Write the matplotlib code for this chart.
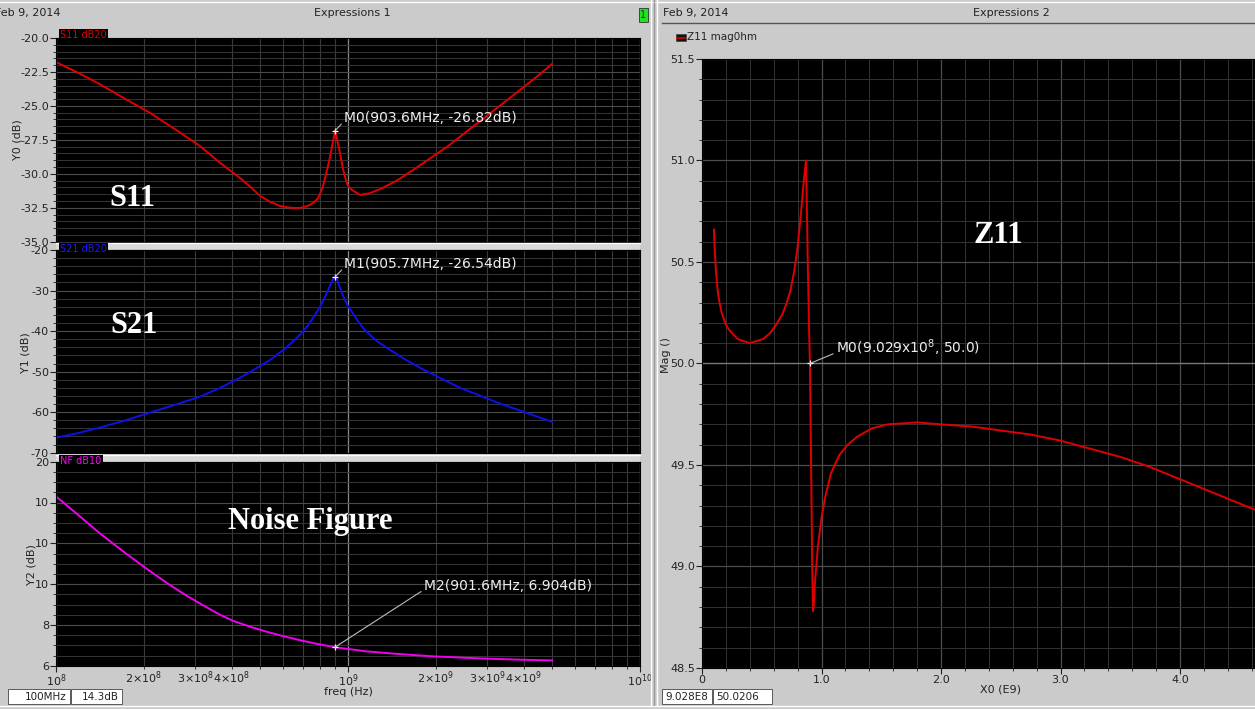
import matplotlib
matplotlib.use('Agg')
import matplotlib.pyplot as plt
from matplotlib.ticker import FixedLocator, FixedFormatter, MultipleLocator
from matplotlib.patches import Rectangle
from matplotlib.lines import Line2D

# ---------------- data ----------------
s11_freq_mhz = [100, 120, 141, 170, 210, 255, 311, 365, 427, 465, 500, 540, 585, 635,
                685, 730, 759, 790, 820, 850, 868, 885, 903.6, 920, 939, 958, 977,
                1000, 1032, 1100, 1190, 1290, 1470, 1670, 1900, 2180, 2650, 3240,
                3880, 4400, 5000]
s11_db = [-21.77, -22.6, -23.39, -24.4, -25.52, -26.7, -27.95, -29.2, -30.31, -31.0,
          -31.63, -32.05, -32.37, -32.5, -32.52, -32.35, -32.15, -31.8, -30.97, -29.6,
          -28.76, -27.8, -26.82, -27.6, -28.47, -29.5, -30.24, -30.9, -31.19, -31.56,
          -31.42, -31.12, -30.5, -29.72, -28.9, -28.03, -26.6, -25.15, -23.83, -22.9,
          -21.91]

s21_freq_mhz = [100, 120, 141, 170, 210, 255, 311, 365, 427, 480, 541, 610, 685, 730,
                771, 805, 834, 855, 875, 890, 905.7, 918, 931, 950, 968, 1000, 1032,
                1080, 1140, 1250, 1390, 1570, 1770, 2070, 2420, 2850, 3320, 4100, 5000]
s21_db = [-66.3, -65.1, -63.8, -62.2, -60.1, -58.2, -56.2, -54.0, -51.5, -49.4, -47.1,
          -44.3, -40.9, -38.6, -36.0, -33.8, -31.6, -29.9, -28.1, -27.1, -26.54, -27.3,
          -28.6, -30.3, -31.8, -33.8, -35.3, -37.5, -39.7, -42.4, -44.6, -47.0, -49.1,
          -51.6, -54.0, -56.0, -57.9, -60.2, -62.4]

nf_freq_mhz = [100, 120, 141, 170, 200, 240, 281, 311, 364, 404, 460, 528, 600, 685,
               790, 901.6, 1160, 1500, 1950, 2500, 3060, 4000, 5000]
nf_db = [14.3, 13.35, 12.5, 11.6, 10.85, 10.05, 9.42, 9.05, 8.5, 8.2, 7.92, 7.66, 7.45,
         7.25, 7.06, 6.904, 6.70, 6.57, 6.46, 6.39, 6.34, 6.29, 6.26]

z11_freq_ghz = [0.10, 0.105, 0.115, 0.125, 0.135, 0.15, 0.165, 0.20, 0.235, 0.30, 0.40,
                0.51, 0.57, 0.62, 0.67, 0.71, 0.74, 0.77, 0.795, 0.82, 0.837, 0.855,
                0.87, 0.878, 0.885, 0.895, 0.9029, 0.915, 0.922, 0.929, 0.937, 0.945,
                0.97, 1.0, 1.03, 1.08, 1.15, 1.22, 1.30, 1.42, 1.55, 1.80, 2.0, 2.25,
                2.5, 2.75, 3.0, 3.25, 3.5, 3.75, 4.0, 4.25, 4.5, 4.75, 5.0]
z11_mag = [50.66, 50.58, 50.47, 50.40, 50.34, 50.29, 50.25, 50.19, 50.16, 50.12, 50.10,
           50.12, 50.15, 50.19, 50.24, 50.30, 50.36, 50.45, 50.55, 50.69, 50.80, 50.92,
           51.00, 50.75, 50.50, 50.20, 50.00, 49.40, 49.00, 48.78, 48.82, 48.92,
           49.10, 49.24, 49.34, 49.46, 49.55, 49.60, 49.64, 49.68, 49.70, 49.71, 49.70,
           49.69, 49.67, 49.65, 49.62, 49.58, 49.54, 49.49, 49.43, 49.37, 49.31, 49.25,
           49.20]

s11_marker = (903.6, -26.82)
s21_marker = (905.7, -26.54)
nf_marker = (901.6, 6.904)
z11_marker = (0.9029, 50.0)

s11_ticks = [-35.0, -32.5, -30.0, -27.5, -25.0, -22.5, -20.0]
s21_ticks = [-70, -60, -50, -40, -30, -20]
nf_ticks = [6, 8, 10, 12, 14, 16]
nf_ticklabels = ['6', '8', '10', '10', '10', '20']
freq_major = [1e8, 1e9, 1e10]
freq_minor = [k * 10.0 ** e for e in (8, 9) for k in range(2, 10)]
freq_labels = {1e8: '$10^{8}$', 1e9: '$10^{9}$', 1e10: '$10^{10}$',
               2e8: '$2{\\times}10^{8}$', 3e8: '$3{\\times}10^{8}$', 4e8: '$4{\\times}10^{8}$',
               2e9: '$2{\\times}10^{9}$', 3e9: '$3{\\times}10^{9}$', 4e9: '$4{\\times}10^{9}$'}
z11_xticks = [0, 1.0, 2.0, 3.0, 4.0]
z11_xticklabels = ['0', '1.0', '2.0', '3.0', '4.0']
z11_yticks = [48.5, 49.0, 49.5, 50.0, 50.5, 51.0, 51.5]

# ---------------- figure ----------------
plt.rcParams['axes.unicode_minus'] = False
plt.rcParams['font.family'] = ['DejaVu Sans']
W, H = 1255, 709
BG = '#cbcbcb'
fig = plt.figure(figsize=(W / 100, H / 100), dpi=100)
fig.patch.set_facecolor(BG)


def fx(x):
    return x / W


def fy(y):
    return 1 - y / H


def px_axes(x0, y0, x1, y1):
    ax = fig.add_axes([fx(x0), fy(y1), (x1 - x0) / W, (y1 - y0) / H])
    ax.set_facecolor('black')
    for s in ax.spines.values():
        s.set_color('black')
    ax.tick_params(which='major', direction='out', length=4, width=0.8,
                   colors='#222222', labelsize=8, pad=1)
    ax.tick_params(which='minor', direction='out', length=2, width=0.6, colors='#222222')
    ax.set_axisbelow(True)
    return ax


LX0, LX1 = 56, 640
panels = [(38, 241.7), (250, 452.7), (461.7, 665.7)]

ax_s11 = px_axes(LX0, panels[0][0], LX1, panels[0][1])
ax_s21 = px_axes(LX0, panels[1][0], LX1, panels[1][1])
ax_nf = px_axes(LX0, panels[2][0], LX1, panels[2][1])

for ax in (ax_s11, ax_s21, ax_nf):
    ax.set_xscale('log')
    ax.set_xlim(1e8, 1e10)
    ax.xaxis.set_major_locator(FixedLocator(freq_major))
    ax.xaxis.set_minor_locator(FixedLocator(freq_minor))
    ax.xaxis.grid(True, which='major', color='#8a8a8a', lw=0.9)
    ax.xaxis.grid(True, which='minor', color='#3a3a3a', lw=0.8)
    ax.yaxis.grid(True, which='major', color='#4a4a4a', lw=0.8)
    ax.yaxis.grid(True, which='minor', color='#353535', lw=0.7)

for ax in (ax_s11, ax_s21):
    ax.tick_params(axis='x', which='both', bottom=False, labelbottom=False)

ax_nf.xaxis.set_major_formatter(FixedFormatter([freq_labels[v] for v in freq_major]))
ax_nf.xaxis.set_minor_formatter(FixedFormatter([freq_labels.get(v, '') for v in freq_minor]))
ax_nf.tick_params(axis='x', which='minor', labelsize=8, pad=1)

# S11
ax_s11.set_ylim(-35, -20)
ax_s11.yaxis.set_major_locator(FixedLocator(s11_ticks))
ax_s11.yaxis.set_major_formatter(FixedFormatter(['%.1f' % v for v in s11_ticks]))
ax_s11.yaxis.set_minor_locator(MultipleLocator(0.5))
ax_s11.plot([f * 1e6 for f in s11_freq_mhz], s11_db, color='#e00000', lw=1.4)

# S21
ax_s21.set_ylim(-70, -20)
ax_s21.yaxis.set_major_locator(FixedLocator(s21_ticks))
ax_s21.yaxis.set_major_formatter(FixedFormatter(['%d' % v for v in s21_ticks]))
ax_s21.yaxis.set_minor_locator(MultipleLocator(2))
ax_s21.plot([f * 1e6 for f in s21_freq_mhz], s21_db, color='#1010e8', lw=1.4)

# NF
ax_nf.set_ylim(6, 16)
ax_nf.yaxis.set_major_locator(FixedLocator(nf_ticks))
ax_nf.yaxis.set_major_formatter(FixedFormatter(nf_ticklabels))
ax_nf.yaxis.set_minor_locator(MultipleLocator(0.5))
ax_nf.plot([f * 1e6 for f in nf_freq_mhz], nf_db, color='#f000f0', lw=1.4)

# markers
ann_kw = dict(fontsize=10, color='#eeeeee', textcoords='offset pixels', ha='left', va='center',
              arrowprops=dict(arrowstyle='-', color='#bdbdbd', lw=0.8, shrinkA=0, shrinkB=0,
                              relpos=(0, 0.25)))
for ax, (mf, mv), label, off in [
        (ax_s11, s11_marker, 'M0(903.6MHz, -26.82dB)', (9, 13)),
        (ax_s21, s21_marker, 'M1(905.7MHz, -26.54dB)', (9, 13)),
        (ax_nf, nf_marker, 'M2(901.6MHz, 6.904dB)', (89, 61))]:
    ax.plot([mf * 1e6], [mv], marker='+', color='white', ms=4, mew=0.9)
    ax.annotate(label, xy=(mf * 1e6, mv), xytext=off, **ann_kw)

# big labels
big = dict(fontsize=22, fontweight='bold', family='Liberation Serif', color='white',
           ha='center', va='center')
fig.text(fx(132), fy(198), 'S11', **big)
fig.text(fx(134), fy(326), 'S21', **big)
fig.text(fx(310), fy(521), 'Noise Figure', **big)

# separator bars above middle / bottom panels
for yb in (243, 455):
    fig.patches.append(Rectangle((fx(LX0), fy(yb + 6)), (LX1 - LX0) / W, 6 / H,
                                 transform=fig.transFigure, fc='#d9d9d9', ec='none'))
    fig.lines.append(Line2D([fx(LX0), fx(LX1)], [fy(yb), fy(yb)], transform=fig.transFigure,
                            color='white', lw=1))

# legend tabs
tab = dict(fontsize=7, ha='left', va='center',
           bbox=dict(boxstyle='square,pad=0.15', fc='black', ec='none'))
fig.text(fx(60), fy(35), 'S11 dB20', color='#e00000', **tab)
fig.text(fx(60), fy(249), 'S21 dB20', color='#1a1aff', **tab)
fig.text(fx(60), fy(461), 'NF dB10', color='#ff00ff', **tab)

# y labels
ylab = dict(rotation=90, fontsize=8, color='#222222', ha='center', va='center')
fig.text(fx(17), fy(140), 'Y0 (dB)', **ylab)
fig.text(fx(26), fy(353), 'Y1 (dB)', **ylab)
fig.text(fx(31), fy(565), 'Y2 (dB)', **ylab)
fig.text(fx(348), fy(692), 'freq (Hz)', fontsize=8, color='#222222', ha='center', va='center')

# ---------------- right panel ----------------
RX0, RX1 = 702, 1255
ax_z = px_axes(RX0, 59, RX1, 668)
ax_z.set_xlim(0, (RX1 - RX0) / 119.5)
ax_z.set_ylim(48.5, 51.5)
ax_z.xaxis.set_major_locator(FixedLocator(z11_xticks))
ax_z.xaxis.set_major_formatter(FixedFormatter(z11_xticklabels))
ax_z.xaxis.set_minor_locator(MultipleLocator(0.2))
ax_z.yaxis.set_major_locator(FixedLocator(z11_yticks))
ax_z.yaxis.set_major_formatter(FixedFormatter(['%.1f' % v for v in z11_yticks]))
ax_z.yaxis.set_minor_locator(MultipleLocator(0.1))
ax_z.grid(True, which='major', color='#4d4d4d', lw=0.9)
ax_z.grid(True, which='minor', color='#333333', lw=0.7)
ax_z.axhline(50.0, color='#7a7a7a', lw=0.9, zorder=1)
ax_z.plot(z11_freq_ghz, z11_mag, color='#e00000', lw=1.4)
ax_z.plot([z11_marker[0]], [z11_marker[1]], marker='+', color='white', ms=4, mew=0.9)
ax_z.annotate('M0(9.029x10$^{8}$, 50.0)', xy=z11_marker, xytext=(26, 16), **ann_kw)
fig.text(fx(998), fy(236), 'Z11', **big)
fig.text(fx(666), fy(355), 'Mag ()', **ylab)
fig.text(fx(1000), fy(690), 'X0 (E9)', fontsize=8, color='#222222', ha='center', va='center')

# legend of right panel
fig.patches.append(Rectangle((fx(676), fy(41)), 10 / W, 7 / H, transform=fig.transFigure,
                             fc='#111111', ec='#444444', lw=0.5))
fig.lines.append(Line2D([fx(677), fx(685)], [fy(37.5), fy(37.5)], transform=fig.transFigure,
                        color='#dd0000', lw=1.2))
fig.text(fx(687), fy(37.5), 'Z11 mag0hm', fontsize=7.5, color='#222222', ha='left', va='center')

# ---------------- window chrome ----------------
fig.text(fx(-5), fy(13), 'Feb 9, 2014', fontsize=8, color='#222222', ha='left', va='center')
fig.text(fx(352), fy(13), 'Expressions 1', fontsize=8, color='#222222', ha='center', va='center')
fig.text(fx(663), fy(13), 'Feb 9, 2014', fontsize=8, color='#222222', ha='left', va='center')
fig.text(fx(1011), fy(13), 'Expressions 2', fontsize=8, color='#222222', ha='center', va='center')
fig.patches.append(Rectangle((fx(639), fy(22)), 9 / W, 14 / H, transform=fig.transFigure,
                             fc='#22e022', ec='#333333', lw=0.6))
fig.text(fx(643.5), fy(15), '1', fontsize=7, color='#114411', ha='center', va='center')

for (x0, x1, y, c) in [(0, 1255, 1.5, 'white'), (662, 1255, 23, '#555555'),
                       (0, 1255, 705.5, 'white')]:
    fig.lines.append(Line2D([fx(x0), fx(x1)], [fy(y), fy(y)], transform=fig.transFigure,
                            color=c, lw=1))
for (x, c) in [(651, 'white'), (654, '#9a9a9a'), (657, 'white')]:
    fig.lines.append(Line2D([fx(x), fx(x)], [fy(0), fy(705)], transform=fig.transFigure,
                            color=c, lw=1))

# status boxes
for (x0, x1, txt, ha) in [(8, 70, '100MHz', 'right'), (71, 122, '14.3dB', 'right'),
                          (662, 712, '9.028E8', 'left'), (713, 772, '50.0206', 'left')]:
    fig.patches.append(Rectangle((fx(x0), fy(704)), (x1 - x0) / W, 15 / H,
                                 transform=fig.transFigure, fc='white', ec='#444444', lw=0.6))
    tx = x1 - 3 if ha == 'right' else x0 + 3
    fig.text(fx(tx), fy(696.5), txt, fontsize=7.5, color='#222222', ha=ha, va='center')

fig.savefig('out.png', dpi=100, facecolor=fig.get_facecolor())
